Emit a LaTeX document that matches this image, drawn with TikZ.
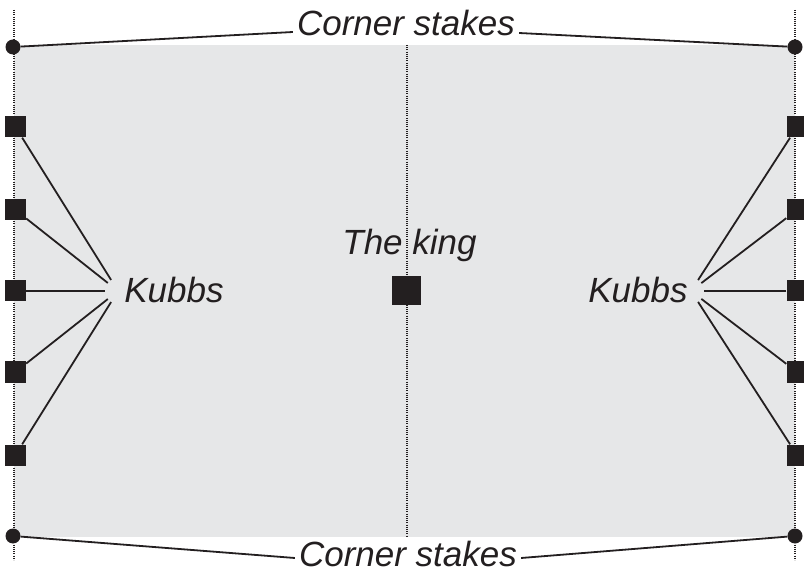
\documentclass[tikz,border=0pt]{standalone}
\usepackage{fontspec}
\setmainfont{Liberation Sans}
\usetikzlibrary{positioning}
\definecolor{ink}{HTML}{231F20}
\definecolor{lawn}{HTML}{E6E7E8}

\begin{document}
\begin{tikzpicture}[
    x=1pt, y=-1pt,
    field/.style={fill=lawn},
    boundary/.style={ink, line width=1.1pt, dash pattern=on 1.1pt off 1.1pt},
    stake/.style={circle, fill=ink, inner sep=0pt, minimum size=15pt},
    kubb/.style={rectangle, fill=ink, inner sep=0pt, minimum size=21pt},
    king/.style={rectangle, fill=ink, inner sep=0pt, minimum size=29pt},
    label/.style={text=ink, font=\fontsize{35}{40}\selectfont\itshape, inner sep=4pt},
    link/.style={ink, line width=1.8pt}
]
\useasboundingbox (0,0) rectangle (804,572);

% PLAN
\fill[field] (14,45) rectangle (795,537);
\draw[boundary] (14,10) -- (14,560);
\draw[boundary] (795,10) -- (795,560);
\draw[boundary] (407,45) -- (407,537);

% ESTACAS
\node[stake] (tl) at (13,47) {};
\node[stake] (tr) at (795,47) {};
\node[stake] (bl) at (13,536) {};
\node[stake] (br) at (795,536) {};
\node[label, anchor=base] (ctop) at (406,36) {Corner stakes};
\node[label, anchor=base] (cbot) at (408,566) {Corner stakes};

% KUBBS
\coordinate (hubL) at (118,291);
\coordinate (hubR) at (691,291);
\node[label, anchor=base] (kL) at (174,303) {Kubbs};
\node[label, anchor=base] (kR) at (638,303) {Kubbs};
\foreach \y [count=\i] in {127,210,291,372,455} {
  \node[kubb] (l\i) at (15.5,\y) {};
  \node[kubb] (r\i) at (797,\y) {};
}

% REY
\node[king] (king) at (406.5,290.5) {};
\node[label, above=10pt of king, xshift=3pt] (kingtxt) {The king};

% Conexiones
\draw[link] (tl) -- ([yshift=4pt]ctop.base west);
\draw[link] ([yshift=3pt]ctop.base east) -- (tr);
\draw[link] (bl) -- ([yshift=8pt]cbot.base west);
\draw[link] ([yshift=8pt]cbot.base east) -- (br);
\foreach \i in {1,...,5} {
  \draw[link, shorten >=13pt] (l\i) -- (hubL);
  \draw[link, shorten >=13pt] (r\i) -- (hubR);
}

\end{tikzpicture}
\end{document}
